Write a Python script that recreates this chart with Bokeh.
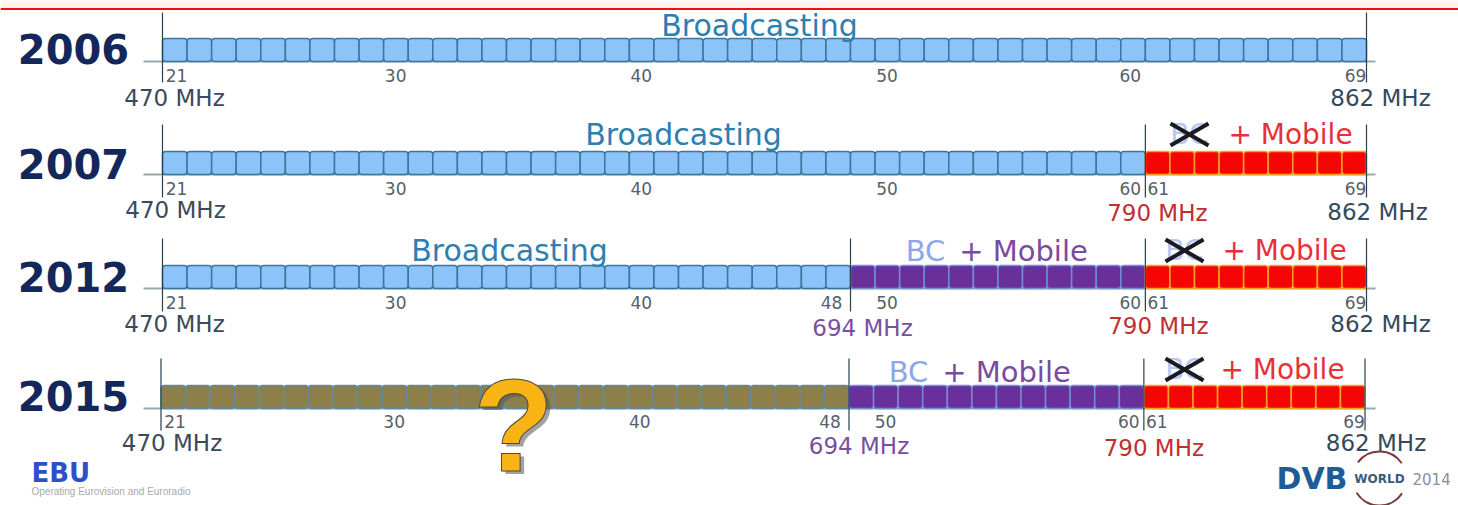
from bokeh.plotting import figure
from bokeh.models import ColumnDataSource, Range1d
from bokeh.core.properties import value
from bokeh.embed import file_html
from bokeh.resources import INLINE

# ---------- data ----------
years = ["2006", "2007", "2012", "2015"]
first_channel = 21
last_channel = 69
mhz_per_channel = 8
base_mhz = 470
# spectrum segments per year: (first channel, last channel, service)
segments_2006 = [(21, 69, "bc")]
segments_2007 = [(21, 60, "bc"), (61, 69, "mobile")]
segments_2012 = [(21, 48, "bc"), (49, 60, "shared"), (61, 69, "mobile")]
segments_2015 = [(21, 48, "unknown"), (49, 60, "shared"), (61, 69, "mobile")]
channel_labels_2006 = [21, 30, 40, 50, 60, 69]
channel_labels_2007 = [21, 30, 40, 50, 60, 61, 69]
channel_labels_2012 = [21, 30, 40, 48, 50, 60, 61, 69]
channel_labels_2015 = [21, 30, 40, 48, 50, 60, 61, 69]
edge_mhz_2006 = [470, 862]
edge_mhz_2007 = [470, 790, 862]
edge_mhz_2012 = [470, 694, 790, 862]
edge_mhz_2015 = [470, 694, 790, 862]

# ---------- layout (pixels; the figure fills the window) ----------
W, H = 1458, 505
PX_PER_MHZ = 1204 / 392
X0 = 470 - 162 / PX_PER_MHZ
F = dict(fill={"bc": "#8CC3F8", "mobile": "#F60505", "shared": "#6B2F9C", "unknown": "#8E7F48"},
         line={"bc": "#3A769E", "mobile": "#F2A51E", "shared": "#6E8FD2", "unknown": "#5E8AA6"})
ROWS = {
    "2006": dict(top=38, dx=0, yy=48, tl=75, vtop=12, vbot=82, seg=segments_2006, ch=channel_labels_2006, mhz=edge_mhz_2006,
                 mhz_pos={470: (12, 97), 862: (14, 97)}),
    "2007": dict(top=151, dx=0, yy=163, tl=188, vtop=124, vbot=197, seg=segments_2007, ch=channel_labels_2007, mhz=edge_mhz_2007,
                 mhz_pos={470: (13, 209), 790: (12, 212), 862: (11, 211)}),
    "2012": dict(top=265, dx=0, yy=276, tl=302, vtop=238, vbot=311, seg=segments_2012, ch=channel_labels_2012, mhz=edge_mhz_2012,
                 mhz_pos={470: (12, 323), 694: (12, 327), 790: (13, 325), 862: (14, 323)}),
    "2015": dict(top=385, dx=-1.5, yy=395, tl=421, vtop=358, vbot=430, seg=segments_2015, ch=channel_labels_2015, mhz=edge_mhz_2015,
                 mhz_pos={470: (11, 442), 694: (10, 445), 790: (10, 447), 862: (11, 442)}),
}
BAR_H = 23
FONT = value("DejaVu Sans")

def mhz(ch):
    return base_mhz + (ch - first_channel) * mhz_per_channel

def fx(px):  # window pixel to MHz
    return X0 + px / PX_PER_MHZ

p = figure(width=W, height=H, x_range=Range1d(X0, X0 + W / PX_PER_MHZ), y_range=Range1d(H, 0),
           output_backend="svg", toolbar_location=None, min_border=0, outline_line_color=None,
           background_fill_color="white", border_fill_color="white")
p.axis.visible = False
p.grid.visible = False

def label(x, y, txt, color, size, bold=False, align="center", alpha=1.0):
    p.text([x], [y], text=[txt], text_color=color, text_font=FONT, text_font_size=f"{size}px",
           text_align=align, text_baseline="middle", text_font_style="bold" if bold else "normal", text_alpha=alpha)

# pale band and red rule along the top
p.quad(left=[fx(0)], right=[fx(W)], top=[0], bottom=[8], fill_color="#FEF3EF", line_color=None)
p.segment([fx(0)], [8.5], [fx(W)], [8.5], line_color="#F01010", line_width=2)

for year in years:
    r = ROWS[year]
    dm = r["dx"] / PX_PER_MHZ
    top, bottom = r["top"], r["top"] + BAR_H
    # baseline
    p.segment([fx(143)], [bottom], [fx(1375)], [bottom], line_color="#9AA8B0", line_width=2)
    # channels
    left, right, fill, line = [], [], [], []
    for a, b, kind in r["seg"]:
        for ch in range(a, b + 1):
            left.append(mhz(ch) + dm)
            right.append(mhz(ch) + mhz_per_channel + dm)
            fill.append(F["fill"][kind])
            line.append(F["line"][kind])
    src = ColumnDataSource(dict(left=left, right=right, fill=fill, line=line,
                                top=[top] * len(left), bottom=[bottom] * len(left)))
    p.quad(left="left", right="right", top="top", bottom="bottom", source=src, fill_color="fill",
           line_color="line", line_width=1.5, border_radius=3)
    # vertical boundary lines
    for f in r["mhz"]:
        p.segment([f + dm], [r["vtop"]], [f + dm], [r["vbot"]], line_color="#26404F", line_width=1.2)
    # year
    label(fx(73), r["yy"], year, "#14275A", 40, bold=True)
    # channel numbers
    for ch in r["ch"]:
        if ch == 60:
            x = mhz(61) + dm - 15 / PX_PER_MHZ
        elif ch == 69:
            x = mhz(70) + dm - 11 / PX_PER_MHZ
        elif ch == 48:
            x = mhz(49) + dm - 19 / PX_PER_MHZ
        elif ch == 61:
            x = mhz(61) + dm + 13 / PX_PER_MHZ
        elif ch == 21:
            x = mhz(21) + dm + 14 / PX_PER_MHZ
        else:
            x = mhz(ch) + dm + 12 / PX_PER_MHZ
        label(x, r["tl"], str(ch), "#55606A", 17)
    # frequency labels
    colors = {470: "#3A4A5C", 694: "#7A4FA0", 790: "#C0302F", 862: "#34495E"}
    for f in r["mhz"]:
        dx_px, y = r["mhz_pos"][f]
        label(f + dm + dx_px / PX_PER_MHZ, y, f"{f} MHz", colors[f], 23)

# Broadcasting titles
label(fx(759), 25, "Broadcasting", "#2E7FB0", 30)
label(fx(683), 134, "Broadcasting", "#2E7FB0", 30)
label(fx(509), 250, "Broadcasting", "#2E7FB0", 30)

# BC + Mobile
for bc_x, mob_x, y in [(925, 1023, 250), (908, 1006, 371)]:
    label(fx(bc_x), y, "BC", "#8DA6E8", 29)
    label(fx(mob_x), y, "+ Mobile", "#7A4A9E", 29)

# struck-out BC + Mobile
for bc_x, mob_x, y in [(1189, 1290, 134), (1184, 1284, 250), (1184, 1282, 369)]:
    label(fx(bc_x), y, "BC", "#B8C8F0", 28)
    label(fx(mob_x), y, "+ Mobile", "#E83038", 28)
    p.segment([fx(bc_x - 19), fx(bc_x - 19)], [y - 11, y + 11], [fx(bc_x + 19), fx(bc_x + 19)], [y + 11, y - 11],
              line_color="#1A1A22", line_width=4)

# question mark
p.text([fx(517)], [428], text=["?"], text_color="#55555A", text_alpha=0.55, text_font=value("Liberation Sans"),
       text_font_size="132px", text_font_style="bold", text_align="center", text_baseline="middle")
p.text([fx(513)], [425], text=["?"], text_color="#F8B414", text_outline_color="#4A4A40",
       text_font=value("Liberation Sans"), text_font_size="132px", text_font_style="bold",
       text_align="center", text_baseline="middle")

# logos
label(fx(31), 472, "EBU", "#2F4FC8", 26, bold=True, align="left")
p.text([fx(31)], [491], text=["Operating Eurovision and Euroradio"], text_color="#A8A8AE",
       text_font=value("Liberation Sans"), text_font_size="10px", text_baseline="middle")
label(fx(1276), 478, "DVB", "#1E5C96", 30, bold=True, align="left")
p.arc([fx(1379), fx(1379)], [478, 478], radius=[27 / PX_PER_MHZ] * 2, start_angle=[0.6, 3.7], end_angle=[2.5, 5.7],
      line_color="#7A3A3A", line_width=2)
p.text([fx(1379)], [478], text=["WORLD"], text_color="#3A5C78", text_font=FONT, text_font_size="12px",
       text_font_style="bold", text_align="center", text_baseline="middle")
p.text([fx(1412)], [478], text=["2014"], text_color="#8A9098", text_font=FONT, text_font_size="15px",
       text_baseline="middle")

open("out.html", "w").write(file_html(p, INLINE))
